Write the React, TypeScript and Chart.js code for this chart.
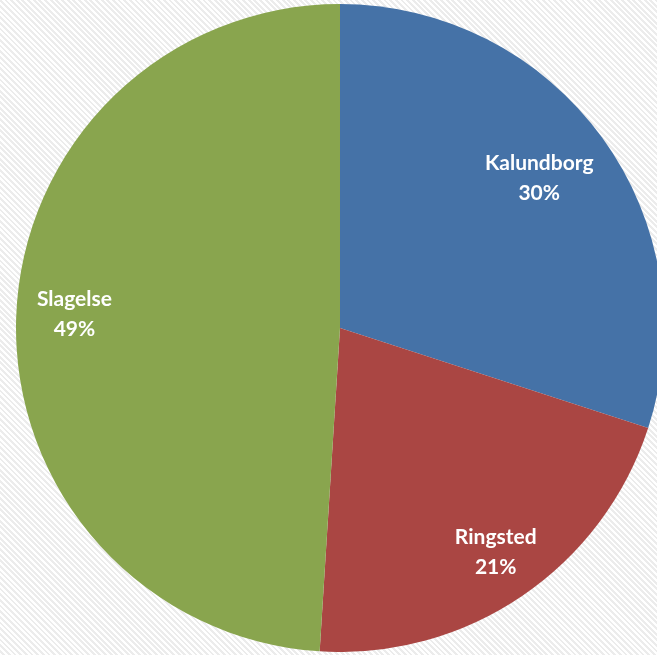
import React, { useEffect, useRef } from "react";
import { Chart, registerables } from "chart.js";

Chart.register(...registerables);

const categories = ["Kalundborg", "Ringsted", "Slagelse"];
const values = [30, 21, 49];
const percentLabels = ["30%", "21%", "49%"];
const colors = ["#4572A7", "#AA4643", "#89A54E"];
const labelRadius = [0.76, 0.855, 0.82];

const labelPlugin = {
  id: "sliceLabels",
  afterDatasetsDraw(chart: any) {
    const ctx = chart.ctx;
    const meta = chart.getDatasetMeta(0);
    ctx.save();
    ctx.fillStyle = "#ffffff";
    ctx.textAlign = "center";
    ctx.textBaseline = "middle";
    ctx.font = "bold 21px Lato, 'Open Sans', sans-serif";
    meta.data.forEach((arc: any, i: number) => {
      const p = arc.getProps(["x", "y", "startAngle", "endAngle", "outerRadius"], true);
      const mid = (p.startAngle + p.endAngle) / 2;
      const r = p.outerRadius * labelRadius[i];
      const cx = p.x + Math.cos(mid) * r;
      const cy = p.y + Math.sin(mid) * r;
      ctx.fillText(categories[i], cx, cy - 20);
      ctx.fillText(percentLabels[i], cx, cy + 10);
    });
    ctx.restore();
  },
};

export default function App() {
  const ref = useRef<HTMLCanvasElement | null>(null);
  useEffect(() => {
    if (!ref.current) return;
    const chart = new Chart(ref.current, {
      type: "pie",
      data: {
        labels: categories,
        datasets: [
          {
            data: values,
            backgroundColor: colors,
            borderWidth: 0,
          },
        ],
      },
      options: {
        responsive: false,
        animation: false,
        layout: { padding: 0 },
        plugins: {
          legend: { display: false },
          tooltip: { enabled: false },
        },
      },
      plugins: [labelPlugin],
    });
    return () => chart.destroy();
  }, []);

  return (
    <div
      style={{
        position: "fixed",
        left: 0,
        top: 0,
        width: 657,
        height: 655,
        overflow: "hidden",
        background:
          "repeating-linear-gradient(45deg, #ffffff 0px, #ffffff 2px, #ececec 2px, #ececec 4px)",
      }}
    >
      <div style={{ position: "absolute", left: 16, top: 4, width: 648, height: 648 }}>
        <canvas ref={ref} width={648} height={648} style={{ width: 648, height: 648 }} />
      </div>
    </div>
  );
}
